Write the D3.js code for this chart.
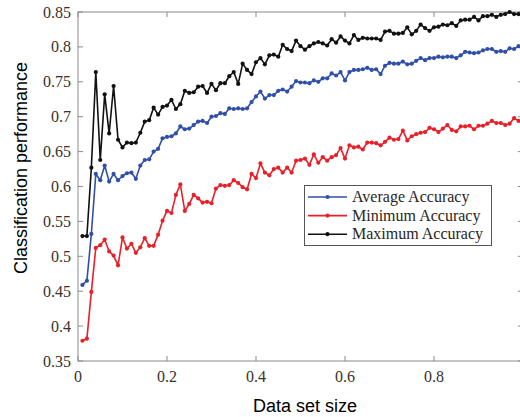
<!DOCTYPE html>
<html>
<head>
<meta charset="utf-8" />
<script src="https://cdn.jsdelivr.net/npm/d3@7"></script>
<style>
  body { margin: 0; background: #fff; }
  svg { display: block; }
  .tick-label { font-family: "Liberation Serif", "Times New Roman", serif; font-size: 16px; fill: #3a3128; }
  .legend-label { font-family: "Liberation Serif", "Times New Roman", serif; font-size: 16px; fill: #2a2520; }
  .title { font-family: "Liberation Sans", Arial, sans-serif; font-size: 18px; fill: #000; }
</style>
</head>
<body>
<svg width="520" height="417"></svg>
<script>
// data set size, 0.01 .. 0.99
var sizes = d3.range(1, 100).map(function(i){ return i / 100; });

var avgAcc = [
  0.459, 0.465, 0.532, 0.618, 0.609, 0.630, 0.607, 0.618, 0.609, 0.615,
  0.619, 0.620, 0.611, 0.630, 0.638, 0.639, 0.650, 0.654, 0.669, 0.671,
  0.672, 0.676, 0.686, 0.682, 0.683, 0.688, 0.693, 0.694, 0.691, 0.700,
  0.701, 0.705, 0.704, 0.712, 0.711, 0.712, 0.711, 0.712, 0.721, 0.729,
  0.736, 0.726, 0.731, 0.731, 0.737, 0.739, 0.736, 0.743, 0.751, 0.749,
  0.749, 0.748, 0.752, 0.750, 0.755, 0.755, 0.762, 0.759, 0.764, 0.752,
  0.764, 0.767, 0.767, 0.768, 0.770, 0.767, 0.768, 0.761, 0.773, 0.777,
  0.776, 0.776, 0.779, 0.775, 0.776, 0.780, 0.784, 0.781, 0.784, 0.784,
  0.786, 0.785, 0.786, 0.786, 0.784, 0.788, 0.793, 0.792, 0.791, 0.792,
  0.795, 0.797, 0.797, 0.793, 0.794, 0.793, 0.798, 0.797, 0.801
];

var minAcc = [
  0.379, 0.382, 0.449, 0.512, 0.516, 0.524, 0.507, 0.501, 0.487, 0.527,
  0.511, 0.518, 0.505, 0.513, 0.526, 0.515, 0.515, 0.531, 0.551, 0.565,
  0.562, 0.588, 0.603, 0.565, 0.575, 0.588, 0.583, 0.577, 0.578, 0.576,
  0.597, 0.602, 0.601, 0.602, 0.609, 0.605, 0.599, 0.596, 0.618, 0.612,
  0.633, 0.620, 0.616, 0.625, 0.627, 0.620, 0.627, 0.620, 0.637, 0.638,
  0.640, 0.631, 0.646, 0.634, 0.642, 0.637, 0.642, 0.645, 0.655, 0.640,
  0.659, 0.656, 0.657, 0.653, 0.663, 0.663, 0.662, 0.659, 0.664, 0.670,
  0.667, 0.668, 0.680, 0.666, 0.672, 0.675, 0.677, 0.678, 0.684, 0.682,
  0.678, 0.683, 0.688, 0.681, 0.679, 0.686, 0.686, 0.687, 0.682, 0.687,
  0.687, 0.690, 0.694, 0.691, 0.691, 0.688, 0.690, 0.698, 0.694
];

var maxAcc = [
  0.529, 0.529, 0.627, 0.764, 0.638, 0.732, 0.676, 0.744, 0.667, 0.656,
  0.663, 0.662, 0.663, 0.677, 0.693, 0.695, 0.713, 0.703, 0.714, 0.716,
  0.724, 0.711, 0.718, 0.737, 0.734, 0.735, 0.743, 0.744, 0.734, 0.747,
  0.738, 0.748, 0.748, 0.758, 0.764, 0.747, 0.776, 0.767, 0.761, 0.778,
  0.784, 0.775, 0.788, 0.789, 0.786, 0.803, 0.797, 0.794, 0.809, 0.801,
  0.796, 0.801, 0.805, 0.807, 0.805, 0.802, 0.811, 0.806, 0.815, 0.809,
  0.805, 0.817, 0.810, 0.813, 0.812, 0.812, 0.812, 0.810, 0.822, 0.823,
  0.819, 0.819, 0.820, 0.828, 0.818, 0.823, 0.832, 0.827, 0.823, 0.828,
  0.829, 0.832, 0.831, 0.834, 0.830, 0.838, 0.839, 0.839, 0.843, 0.838,
  0.844, 0.844, 0.846, 0.843, 0.846, 0.847, 0.850, 0.847, 0.847
];

var xTicks = [0, 0.2, 0.4, 0.6, 0.8];
var yTicks = [0.35, 0.4, 0.45, 0.5, 0.55, 0.6, 0.65, 0.7, 0.75, 0.8, 0.85];

var seriesNames = ["Average Accuracy", "Minimum Accuracy", "Maximum Accuracy"];
var seriesColors = ["#3050a8", "#e8202a", "#111111"];
var seriesValues = [avgAcc, minAcc, maxAcc];

// plot box (named so they do not clash with window.top)
var plotLeft = 78, plotRight = 523, plotTop = 12, plotBottom = 361;
var axisColor = "#8a8a8a";

var svg = d3.select("svg");

var x = d3.scaleLinear().domain([0, 1]).range([plotLeft, plotRight]);
var y = d3.scaleLinear().domain([0.35, 0.85]).range([plotBottom, plotTop]);

// box
svg.append("rect")
    .attr("x", plotLeft).attr("y", plotTop)
    .attr("width", plotRight - plotLeft).attr("height", plotBottom - plotTop)
    .attr("fill", "none")
    .attr("stroke", axisColor)
    .attr("stroke-width", 1);

// ticks pointing inwards on all four sides
var tickLen = 5;
var g = svg.append("g").attr("class", "ticks");
xTicks.forEach(function(t) {
    g.append("line").attr("x1", x(t)).attr("x2", x(t)).attr("y1", plotBottom).attr("y2", plotBottom - tickLen).attr("stroke", axisColor);
    g.append("line").attr("x1", x(t)).attr("x2", x(t)).attr("y1", plotTop).attr("y2", plotTop + tickLen).attr("stroke", axisColor);
});
yTicks.forEach(function(t) {
    g.append("line").attr("x1", plotLeft).attr("x2", plotLeft + tickLen).attr("y1", y(t)).attr("y2", y(t)).attr("stroke", axisColor);
    g.append("line").attr("x1", plotRight).attr("x2", plotRight - tickLen).attr("y1", y(t)).attr("y2", y(t)).attr("stroke", axisColor);
});

svg.append("g").selectAll("text")
    .data(xTicks)
    .enter().append("text")
    .attr("class", "tick-label")
    .attr("x", function(d){ return x(d); })
    .attr("y", 382)
    .attr("text-anchor", "middle")
    .text(function(d){ return d3.format("")(d); });

svg.append("g").selectAll("text")
    .data(yTicks)
    .enter().append("text")
    .attr("class", "tick-label")
    .attr("x", 71)
    .attr("y", function(d){ return y(d) + 5.5; })
    .attr("text-anchor", "end")
    .text(function(d){ return d3.format("")(d); });

// titles
svg.append("text")
    .attr("class", "title")
    .attr("x", 305)
    .attr("y", 412)
    .attr("text-anchor", "middle")
    .text("Data set size");

svg.append("text")
    .attr("class", "title")
    .attr("transform", "translate(27,168) rotate(-90)")
    .attr("text-anchor", "middle")
    .text("Classification performance");

// series
var line = d3.line()
    .x(function(d, i){ return x(sizes[i]); })
    .y(function(d){ return y(d); });

var plot = svg.append("g").attr("class", "series");
seriesValues.forEach(function(vals, k) {
    var s = plot.append("g");
    s.append("path")
        .datum(vals)
        .attr("d", line)
        .attr("fill", "none")
        .attr("stroke", seriesColors[k])
        .attr("stroke-width", 1.6)
        .attr("stroke-linejoin", "round");
    s.selectAll("circle")
        .data(vals)
        .enter().append("circle")
        .attr("cx", function(d, i){ return x(sizes[i]); })
        .attr("cy", function(d){ return y(d); })
        .attr("r", 2.1)
        .attr("fill", seriesColors[k]);
});

// legend
var legend = svg.append("g").attr("class", "legend");
legend.append("rect")
    .attr("x", 304.5).attr("y", 185.5)
    .attr("width", 187).attr("height", 60)
    .attr("fill", "#fff")
    .attr("stroke", "#555")
    .attr("stroke-width", 1);

seriesNames.forEach(function(name, k) {
    var ly = 197 + k * 18.6;
    legend.append("line")
        .attr("x1", 308).attr("x2", 347)
        .attr("y1", ly).attr("y2", ly)
        .attr("stroke", seriesColors[k])
        .attr("stroke-width", 1.6);
    legend.append("circle")
        .attr("cx", 327.5).attr("cy", ly)
        .attr("r", 2.1)
        .attr("fill", seriesColors[k]);
    legend.append("text")
        .attr("class", "legend-label")
        .attr("x", 352)
        .attr("y", ly + 5)
        .text(name);
});
</script>
</body>
</html>
